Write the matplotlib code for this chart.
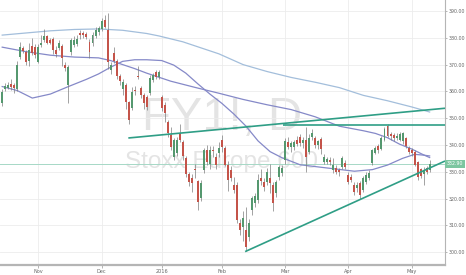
import numpy as np
import pandas as pd
import matplotlib
matplotlib.use('Agg')
import matplotlib.pyplot as plt

# Daily bars, 15 Oct 2015 - 10 May 2016 (exchange holidays removed)
HOLIDAYS = ['2015-12-24', '2015-12-25', '2015-12-31', '2016-01-01',
            '2016-03-25', '2016-03-28']
days = pd.bdate_range('2015-10-15', '2016-05-10')
days = days[~days.isin(pd.to_datetime(HOLIDAYS))]

opens = [355.7, 360.9, 361.4, 362.8, 362.4, 360.9, 372.8, 376.2, 374.7, 371.3,
         377.0, 376.6, 371.0, 377.4, 379.0, 380.5, 379.3, 379.6, 375.5, 376.3,
         377.0, 369.9, 362.4, 374.7, 377.4, 377.8, 381.8, 381.8, 381.4, 378.4,
         378.1, 380.5, 382.0, 383.3, 386.6, 382.9, 368.1, 374.3, 371.3, 365.7,
         360.9, 362.4, 356.0, 353.8, 360.3, 365.8, 361.3, 358.7, 357.9, 359.4,
         364.3, 367.2, 365.4, 357.9, 354.9, 348.5, 343.7, 335.5, 337.0, 344.5,
         341.0, 335.1, 329.0, 327.7, 330.9, 326.5, 320.3, 330.7, 338.2, 332.9,
         338.0, 335.5, 337.0, 341.9, 338.9, 332.6, 330.7, 325.1, 325.1, 311.0,
         309.4, 308.3, 305.7, 315.8, 318.4, 319.5, 327.7, 326.3, 326.3, 327.7,
         325.1, 322.1, 328.1, 329.7, 334.4, 341.2, 339.4, 339.4, 342.0, 343.0,
         340.8, 341.9, 337.4, 343.0, 342.6, 339.8, 342.3, 333.8, 333.8, 334.5,
         330.7, 331.4, 330.8, 331.8, 333.4, 328.8, 328.1, 325.1, 323.9, 325.9,
         323.2, 326.3, 327.8, 333.3, 337.1, 339.5, 338.5, 342.0, 347.0, 344.0,
         343.8, 342.5, 342.0, 341.5, 342.5, 339.0, 338.0, 337.4, 333.5, 331.0,
         329.0, 331.4, 330.5]
highs = [361.0, 363.0, 363.5, 364.5, 363.0, 371.5, 378.5, 377.0, 375.5, 378.0,
         380.0, 377.5, 377.5, 381.0, 383.2, 381.0, 380.0, 380.2, 377.0, 379.0,
         377.8, 371.0, 370.0, 380.0, 380.5, 381.0, 382.9, 382.5, 382.0, 379.5,
         382.0, 384.0, 384.5, 387.5, 388.5, 389.3, 371.0, 376.5, 372.0, 366.5,
         364.5, 363.0, 356.5, 361.5, 362.0, 369.5, 362.0, 359.5, 358.5, 366.0,
         367.0, 368.0, 368.0, 358.5, 356.0, 349.5, 346.8, 342.5, 343.0, 348.0,
         342.0, 336.0, 330.0, 329.0, 333.0, 327.0, 327.0, 339.0, 340.0, 339.5,
         339.5, 337.0, 341.0, 343.7, 339.5, 334.0, 332.0, 328.0, 326.0, 312.5,
         315.5, 317.0, 312.5, 321.0, 322.0, 329.0, 331.0, 327.5, 331.5, 333.0,
         326.0, 327.0, 332.5, 332.5, 342.5, 343.0, 341.5, 342.0, 343.5, 344.0,
         343.0, 346.7, 344.0, 346.0, 343.5, 342.0, 343.0, 336.5, 335.5, 335.5,
         335.0, 332.5, 331.5, 336.0, 334.5, 330.0, 329.0, 326.0, 326.0, 326.5,
         328.5, 330.0, 330.5, 338.5, 339.5, 340.5, 343.5, 346.8, 348.0, 345.0,
         344.5, 344.5, 345.0, 345.0, 343.0, 339.5, 339.0, 338.0, 334.0, 331.5,
         331.8, 332.0, 334.5]
lows = [354.5, 360.0, 360.8, 360.5, 359.5, 360.2, 372.0, 374.5, 370.0, 369.5,
        373.5, 372.5, 370.5, 376.5, 378.5, 377.5, 377.5, 374.0, 373.0, 375.5,
        369.5, 367.5, 355.7, 373.5, 376.5, 377.0, 379.6, 380.0, 379.5, 372.5,
        377.0, 380.0, 381.0, 382.5, 383.5, 368.5, 366.5, 370.5, 364.5, 362.5,
        358.5, 353.5, 347.8, 353.0, 358.5, 364.5, 357.5, 353.5, 353.0, 358.5,
        363.5, 364.5, 364.8, 352.5, 348.7, 343.0, 338.0, 334.5, 336.0, 341.0,
        334.5, 328.0, 324.5, 322.5, 327.5, 315.8, 319.0, 329.5, 332.5, 331.0,
        335.5, 331.0, 335.5, 337.5, 332.0, 323.0, 326.5, 322.0, 311.0, 306.5,
        304.0, 300.3, 304.0, 314.0, 317.0, 318.5, 325.0, 323.0, 325.0, 322.0,
        315.5, 320.5, 327.0, 328.5, 333.0, 338.5, 337.5, 338.0, 339.5, 339.5,
        339.0, 330.0, 336.5, 342.0, 339.0, 338.5, 336.5, 333.0, 333.0, 332.5,
        329.7, 329.0, 328.5, 331.0, 331.0, 325.5, 326.0, 321.5, 322.5, 320.0,
        322.5, 325.5, 327.0, 332.5, 336.5, 337.0, 338.0, 341.5, 343.0, 342.0,
        341.5, 341.8, 341.5, 340.5, 339.0, 336.5, 336.0, 332.0, 327.0, 327.5,
        325.2, 329.2, 330.0]
closes = [359.8, 362.0, 362.4, 361.6, 361.3, 369.9, 376.6, 375.1, 371.0, 375.4,
          374.3, 373.6, 376.6, 378.2, 380.5, 378.2, 378.2, 375.5, 373.8, 378.2,
          372.5, 368.8, 369.1, 379.2, 379.2, 379.6, 380.9, 381.0, 380.3, 374.7,
          381.0, 383.0, 383.8, 386.3, 384.0, 371.1, 369.9, 371.3, 365.7, 363.9,
          363.5, 356.0, 349.3, 359.8, 360.0, 365.5, 358.7, 355.7, 354.2, 365.0,
          366.1, 365.4, 367.2, 353.8, 351.9, 344.5, 339.2, 341.9, 341.9, 341.9,
          336.0, 329.0, 326.2, 325.8, 330.5, 318.8, 325.9, 338.2, 333.7, 338.2,
          337.8, 332.6, 339.0, 339.2, 332.6, 327.0, 327.7, 323.2, 312.0, 308.3,
          312.8, 302.0, 311.0, 320.2, 321.0, 326.9, 326.7, 324.4, 330.0, 325.9,
          318.4, 326.3, 331.8, 331.5, 341.5, 339.4, 340.8, 341.2, 340.5, 340.8,
          341.9, 335.5, 342.6, 344.6, 340.0, 341.5, 338.5, 335.5, 334.6, 333.5,
          332.6, 329.9, 330.0, 335.2, 331.8, 326.2, 327.0, 322.5, 325.1, 321.4,
          327.7, 328.9, 329.6, 338.2, 339.0, 338.0, 342.5, 346.0, 343.5, 343.2,
          342.5, 343.5, 344.0, 344.5, 339.5, 337.5, 337.0, 332.6, 328.0, 328.5,
          330.5, 330.0, 332.9]

# moving averages (bar number, value)
ma50_bars = [0, 5, 10, 16, 22, 28, 32, 36, 40, 44, 48, 53, 57, 61, 65, 69, 73,
             77, 81, 85, 89, 93, 99, 105, 111, 117, 123, 128, 133, 137, 140, 142]
ma50_vals = [361.8, 360.3, 357.5, 359.0, 361.8, 364.5, 366.5, 369.0, 371.2,
             371.8, 371.8, 371.5, 369.8, 366.8, 362.8, 359.0, 355.5, 351.5,
             347.0, 341.5, 337.5, 335.2, 332.6, 331.8, 331.0, 330.2, 330.8,
             332.5, 335.0, 336.5, 336.2, 335.9]
ma100_bars = [0, 8, 16, 24, 32, 36, 40, 44, 48, 52, 56, 64, 72, 80, 88, 96, 104,
              112, 120, 124, 128, 132, 136, 140, 142]
ma100_vals = [376.5, 374.8, 373.5, 372.8, 372.5, 371.5, 370.0, 368.5, 366.8,
              365.3, 363.8, 361.5, 359.3, 357.0, 355.0, 353.2, 350.5, 347.0,
              345.3, 344.3, 342.7, 340.3, 338.5, 336.3, 335.3]
ma200_bars = [0, 8, 16, 24, 32, 40, 48, 52, 56, 60, 64, 72, 80, 88, 96, 104,
              112, 120, 128, 136, 142]
ma200_vals = [381.0, 381.8, 382.6, 383.1, 383.3, 382.8, 381.6, 380.7, 379.6,
              378.5, 377.0, 374.0, 370.0, 367.4, 365.2, 363.4, 361.4, 358.5,
              356.5, 354.2, 352.3]

# drawn trend lines (bar number, price)
upper_line_bars = [41.9, 147.1]
upper_line_vals = [342.6, 353.7]
flat_line_bars = [93.3, 147.1]
flat_line_vals = [347.5, 347.5]
lower_line_bars = [80.7, 147.1]
lower_line_vals = [300.2, 334.0]

last_price = 332.90
price_ticks = list(range(300, 391, 10))

o = np.array(opens)
h = np.array(highs)
l = np.array(lows)
c = np.array(closes)
x = np.arange(len(days))

# month start bars for the x labels
month_pos = [i for i in range(1, len(days)) if days[i].month != days[i - 1].month]
month_lab = [days[i].strftime('%Y') if days[i].month == 1 else days[i].strftime('%b')
             for i in month_pos]

fig = plt.figure(figsize=(4.66, 2.75), dpi=100)
ax = fig.add_axes([0, 10 / 275, 445 / 466, 265 / 275])

# watermark
ax.text(0.499, 0.509, 'FY1!, D', transform=ax.transAxes, ha='center',
        va='baseline', fontsize=34, color='#e4e4e4', family='Liberation Sans',
        zorder=0)
ax.text(0.498, 0.366, 'Stoxx Europe 600', transform=ax.transAxes, ha='center',
        va='baseline', fontsize=17.5, color='#e4e4e4', family='Liberation Sans',
        zorder=0)

ax.axhline(last_price, color='#a6d8c6', lw=0.7, zorder=1)

# moving averages
ax.plot(ma200_bars, ma200_vals, color='#a3bedb', lw=0.9, zorder=2)
ax.plot(ma100_bars, ma100_vals, color='#8589c8', lw=0.9, zorder=2)
ax.plot(ma50_bars, ma50_vals, color='#8589c8', lw=0.9, zorder=2)

# candles
up = c >= o
colors = np.where(up, '#55986f', '#c4544a')
ax.vlines(x, l, h, color='#7d7d7d', lw=0.5, zorder=3)
body = np.maximum(np.abs(c - o), 0.35)
ax.bar(x, body, bottom=np.minimum(o, c), width=0.66, color=colors, lw=0,
       zorder=4)

# trend lines
for bx, by in [(upper_line_bars, upper_line_vals),
               (flat_line_bars, flat_line_vals),
               (lower_line_bars, lower_line_vals)]:
    ax.plot(bx, by, color='#2f9e86', lw=1.2, zorder=5, solid_capstyle='butt')

ax.set_xlim(-0.73, 147.1)
ax.set_ylim(295.2, 394.1)

ax.set_xticks(month_pos)
ax.set_xticklabels(month_lab)
ax.yaxis.tick_right()
ax.set_yticks(price_ticks)
ax.set_yticklabels(['%.2f' % v for v in price_ticks])
ax.tick_params(axis='x', length=2, width=0.5, color='#999999', labelsize=3.6,
               labelcolor='#666666', pad=1.2)
ax.tick_params(axis='y', length=1.5, width=0.5, color='#999999', labelsize=3.4,
               labelcolor='#666666', pad=0.8)
ax.grid(True, color='#ececec', lw=0.6, zorder=0)
ax.set_axisbelow(True)

for s in ['top', 'left']:
    ax.spines[s].set_visible(False)
ax.spines['bottom'].set_color('#b5b5b5')
ax.spines['bottom'].set_linewidth(1.6)
ax.spines['right'].set_color('#b5b5b5')
ax.spines['right'].set_linewidth(0.8)

# last price tag on the axis
ax.text(1.0 + 2.0 / 445, (last_price - 295.2) / (394.1 - 295.2), '332.90',
        transform=ax.transAxes, ha='left', va='center', fontsize=3.4,
        color='white', clip_on=False, zorder=6,
        bbox=dict(boxstyle='square,pad=0.4', fc='#7cc6a0', ec='none'))

fig.savefig('out.png', dpi=100)
